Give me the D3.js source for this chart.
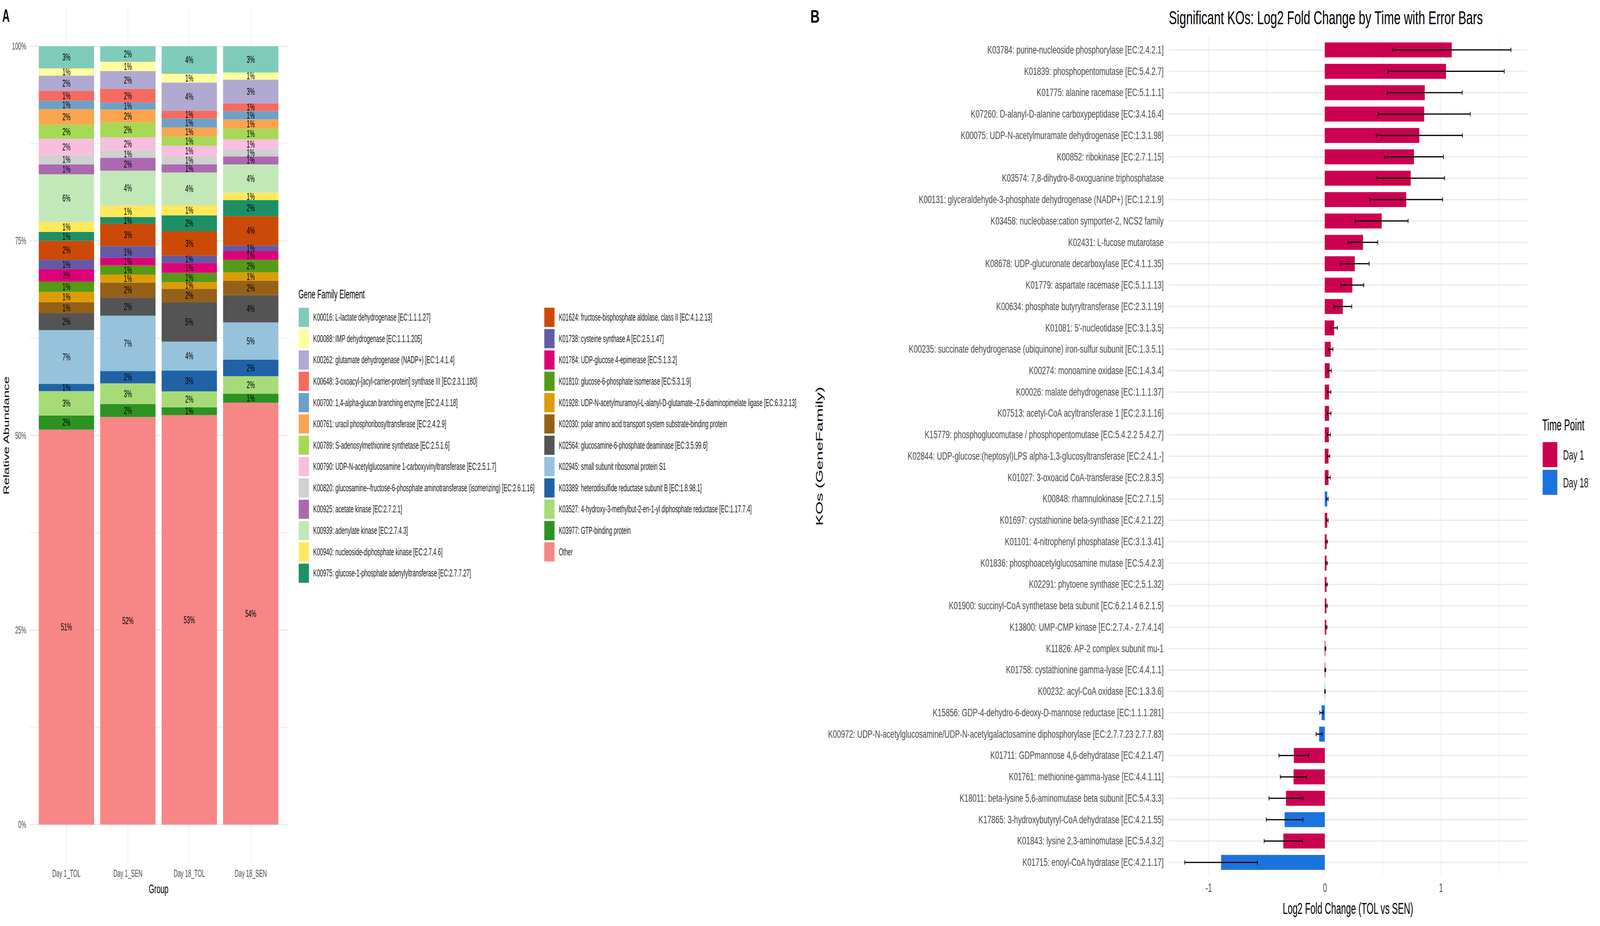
<!DOCTYPE html>
<html><head><meta charset="utf-8">
<script src="https://cdn.jsdelivr.net/npm/d3@7"></script>
<style>
html,body{margin:0;padding:0;background:#fff;overflow:hidden;width:100%;height:100%}
svg{display:block;width:100vw;height:100vh}
text{font-family:"Liberation Sans",Arial,Helvetica,sans-serif}
</style>
</head><body>
<svg id="c" viewBox="0 0 7199 2371" preserveAspectRatio="none"></svg>
<script>
// ---------------- Panel A data ----------------
const groups = ["Day 1_TOL", "Day 1_SEN", "Day 18_TOL", "Day 18_SEN"];
const geneFamilies = [
"K00016: L-lactate dehydrogenase [EC:1.1.1.27]",
"K00088: IMP dehydrogenase [EC:1.1.1.205]",
"K00262: glutamate dehydrogenase (NADP+) [EC:1.4.1.4]",
"K00648: 3-oxoacyl-[acyl-carrier-protein] synthase III [EC:2.3.1.180]",
"K00700: 1,4-alpha-glucan branching enzyme [EC:2.4.1.18]",
"K00761: uracil phosphoribosyltransferase [EC:2.4.2.9]",
"K00789: S-adenosylmethionine synthetase [EC:2.5.1.6]",
"K00790: UDP-N-acetylglucosamine 1-carboxyvinyltransferase [EC:2.5.1.7]",
"K00820: glucosamine--fructose-6-phosphate aminotransferase (isomerizing) [EC:2.6.1.16]",
"K00925: acetate kinase [EC:2.7.2.1]",
"K00939: adenylate kinase [EC:2.7.4.3]",
"K00940: nucleoside-diphosphate kinase [EC:2.7.4.6]",
"K00975: glucose-1-phosphate adenylyltransferase [EC:2.7.7.27]",
"K01624: fructose-bisphosphate aldolase, class II [EC:4.1.2.13]",
"K01738: cysteine synthase A [EC:2.5.1.47]",
"K01784: UDP-glucose 4-epimerase [EC:5.1.3.2]",
"K01810: glucose-6-phosphate isomerase [EC:5.3.1.9]",
"K01928: UDP-N-acetylmuramoyl-L-alanyl-D-glutamate--2,6-diaminopimelate ligase [EC:6.3.2.13]",
"K02030: polar amino acid transport system substrate-binding protein",
"K02564: glucosamine-6-phosphate deaminase [EC:3.5.99.6]",
"K02945: small subunit ribosomal protein S1",
"K03389: heterodisulfide reductase subunit B [EC:1.8.98.1]",
"K03527: 4-hydroxy-3-methylbut-2-en-1-yl diphosphate reductase [EC:1.17.7.4]",
"K03977: GTP-binding protein",
"Other"];
const familyColors = ["#7FCBBA","#FFFD9F","#B0A9D1","#F76A5F","#6BA1C9","#FBA450","#A6D955","#F8BEDF","#D0D0D0","#AD69B0","#C2E8B8","#FFE95B","#1D9066","#CC4A07","#625BA5","#DD0078","#569A17","#DE9C05","#956118","#545454","#96C3DB","#1F63A6","#A6DB78","#2C9322","#F78686"];
const day1TOL  = [2.83,0.93,1.98,1.27,1.05,1.98,1.85,2.06,1.23,1.27,6.14,1.27,1.13,2.44,1.19,1.61,1.33,1.33,1.41,2.17,6.92,0.92,3.13,1.81,50.77];
const day1SEN  = [1.98,1.20,2.31,1.72,0.91,1.67,1.91,1.65,0.98,1.65,4.49,1.46,0.86,2.90,1.46,1.00,1.19,1.02,1.94,2.31,7.12,1.58,2.65,1.67,52.38];
const day18TOL = [3.52,1.13,3.61,1.00,1.13,1.20,1.16,1.35,1.04,1.05,4.23,1.27,2.04,3.13,0.94,1.27,1.19,0.86,1.73,5.05,3.71,2.67,2.05,1.00,52.56];
const day18SEN = [3.36,0.93,3.03,1.00,1.06,1.18,1.38,1.25,0.95,1.03,3.65,0.93,2.06,3.77,0.73,1.11,1.62,1.07,1.84,3.52,4.78,2.13,2.25,1.15,54.20];
const abundanceTicks = [0, 25, 50, 75, 100];

// ---------------- Panel B data ----------------
const koLabels = [
"K03784: purine-nucleoside phosphorylase [EC:2.4.2.1]",
"K01839: phosphopentomutase [EC:5.4.2.7]",
"K01775: alanine racemase [EC:5.1.1.1]",
"K07260: D-alanyl-D-alanine carboxypeptidase [EC:3.4.16.4]",
"K00075: UDP-N-acetylmuramate dehydrogenase [EC:1.3.1.98]",
"K00852: ribokinase [EC:2.7.1.15]",
"K03574: 7,8-dihydro-8-oxoguanine triphosphatase",
"K00131: glyceraldehyde-3-phosphate dehydrogenase (NADP+) [EC:1.2.1.9]",
"K03458: nucleobase:cation symporter-2, NCS2 family",
"K02431: L-fucose mutarotase",
"K08678: UDP-glucuronate decarboxylase [EC:4.1.1.35]",
"K01779: aspartate racemase [EC:5.1.1.13]",
"K00634: phosphate butyryltransferase [EC:2.3.1.19]",
"K01081: 5'-nucleotidase [EC:3.1.3.5]",
"K00235: succinate dehydrogenase (ubiquinone) iron-sulfur subunit [EC:1.3.5.1]",
"K00274: monoamine oxidase [EC:1.4.3.4]",
"K00026: malate dehydrogenase [EC:1.1.1.37]",
"K07513: acetyl-CoA acyltransferase 1 [EC:2.3.1.16]",
"K15779: phosphoglucomutase / phosphopentomutase [EC:5.4.2.2 5.4.2.7]",
"K02844: UDP-glucose:(heptosyl)LPS alpha-1,3-glucosyltransferase [EC:2.4.1.-]",
"K01027: 3-oxoacid CoA-transferase [EC:2.8.3.5]",
"K00848: rhamnulokinase [EC:2.7.1.5]",
"K01697: cystathionine beta-synthase [EC:4.2.1.22]",
"K01101: 4-nitrophenyl phosphatase [EC:3.1.3.41]",
"K01836: phosphoacetylglucosamine mutase [EC:5.4.2.3]",
"K02291: phytoene synthase [EC:2.5.1.32]",
"K01900: succinyl-CoA synthetase beta subunit [EC:6.2.1.4 6.2.1.5]",
"K13800: UMP-CMP kinase [EC:2.7.4.- 2.7.4.14]",
"K11826: AP-2 complex subunit mu-1",
"K01758: cystathionine gamma-lyase [EC:4.4.1.1]",
"K00232: acyl-CoA oxidase [EC:1.3.3.6]",
"K15856: GDP-4-dehydro-6-deoxy-D-mannose reductase [EC:1.1.1.281]",
"K00972: UDP-N-acetylglucosamine/UDP-N-acetylgalactosamine diphosphorylase [EC:2.7.7.23 2.7.7.83]",
"K01711: GDPmannose 4,6-dehydratase [EC:4.2.1.47]",
"K01761: methionine-gamma-lyase [EC:4.4.1.11]",
"K18011: beta-lysine 5,6-aminomutase beta subunit [EC:5.4.3.3]",
"K17865: 3-hydroxybutyryl-CoA dehydratase [EC:4.2.1.55]",
"K01843: lysine 2,3-aminomutase [EC:5.4.3.2]",
"K01715: enoyl-CoA hydratase [EC:4.2.1.17]"];
const log2FC = [1.093,1.044,0.861,0.856,0.814,0.768,0.740,0.701,0.490,0.329,0.258,0.237,0.155,0.081,0.051,0.042,0.037,0.037,0.035,0.032,0.032,0.021,0.021,0.016,0.015,0.015,0.014,0.013,0.005,0.004,0.002,-0.028,-0.049,-0.267,-0.269,-0.334,-0.346,-0.357,-0.893];
const stdErr = [0.510,0.501,0.322,0.396,0.371,0.253,0.292,0.314,0.227,0.127,0.124,0.099,0.077,0.028,0.019,0.015,0.015,0.016,0.013,0.011,0.015,0.008,0.008,0.007,0.007,0.007,0.007,0.006,0.004,0.004,0.003,0.015,0.026,0.128,0.114,0.147,0.158,0.165,0.313];
const timePoint = ["Day 1","Day 1","Day 1","Day 1","Day 1","Day 1","Day 1","Day 1","Day 1","Day 1","Day 1","Day 1","Day 1","Day 1","Day 1","Day 1","Day 1","Day 1","Day 1","Day 1","Day 1","Day 18","Day 1","Day 1","Day 1","Day 1","Day 1","Day 1","Day 1","Day 1","Day 18","Day 18","Day 18","Day 1","Day 1","Day 1","Day 18","Day 1","Day 18"];
const timeLevels = ["Day 1", "Day 18"];
const timeColors = ["#CC0050", "#1B73DD"];
const fcTicks = [-1, 0, 1];
const fcMinor = [-0.5, 0.5, 1.5];

// ---------------- Drawing ----------------
const svg = d3.select("#c");
const GRID = "#EBEBEB";

// ===== Panel A =====
const A = {l:133, r:1294, t:19, b:2211};
const xA = d3.scaleBand().domain(groups).range([A.l, A.r]).paddingInner(0.1).paddingOuter(0.15);
const yA = d3.scaleLinear().domain([-5, 105]).range([A.b, A.t]);
const colorA = d3.scaleOrdinal().domain(geneFamilies).range(familyColors);

const gA = svg.append("g");
const minorA = abundanceTicks.slice(0, -1).map((d, i) => (d + abundanceTicks[i + 1]) / 2);
gA.selectAll(".minA").data(minorA).join("line")
  .attr("x1", A.l).attr("x2", A.r).attr("y1", d => yA(d)).attr("y2", d => yA(d))
  .attr("stroke", GRID).attr("stroke-width", 2);
gA.selectAll(".majA").data(abundanceTicks).join("line")
  .attr("x1", A.l).attr("x2", A.r).attr("y1", d => yA(d)).attr("y2", d => yA(d))
  .attr("stroke", GRID).attr("stroke-width", 3.5);
gA.selectAll(".vA").data(groups).join("line")
  .attr("x1", d => xA(d) + xA.bandwidth() / 2).attr("x2", d => xA(d) + xA.bandwidth() / 2)
  .attr("y1", A.t).attr("y2", A.b).attr("stroke", GRID).attr("stroke-width", 3);

const groupValues = [day1TOL, day1SEN, day18TOL, day18SEN];
const rowsA = groups.map((g, i) => {
  const tot = d3.sum(groupValues[i]);
  const o = {group: g};
  geneFamilies.forEach((f, j) => { o[f] = groupValues[i][j] / tot * 100; });
  return o;
});
const stackKeys = geneFamilies.slice().reverse();
const seriesA = d3.stack().keys(stackKeys)(rowsA);

const segG = gA.append("g");
seriesA.forEach(s => {
  segG.selectAll(null).data(s).join("rect")
    .attr("x", d => xA(d.data.group))
    .attr("width", xA.bandwidth())
    .attr("y", d => yA(d[1]))
    .attr("height", d => yA(d[0]) - yA(d[1]))
    .attr("fill", colorA(s.key));
});
seriesA.forEach(s => {
  segG.selectAll(null).data(s).join("text")
    .attr("x", d => xA(d.data.group) + xA.bandwidth() / 2)
    .attr("y", d => (yA(d[0]) + yA(d[1])) / 2)
    .attr("text-anchor", "middle").attr("dominant-baseline", "central")
    .attr("font-size", 25).attr("fill", "#000")
    .text(d => Math.round(d[1] - d[0]) + "%");
});

const yAxA = gA.append("g").attr("transform", `translate(${A.l},0)`)
  .call(d3.axisLeft(yA).tickValues(abundanceTicks).tickFormat(d => d + "%").tickSize(0).tickPadding(15));
yAxA.select(".domain").remove();
yAxA.selectAll("text").attr("font-size", 25).attr("fill", "#4D4D4D").style("font-family", "Liberation Sans, Arial, sans-serif");

const xAxA = gA.append("g").attr("transform", `translate(0,${A.b})`)
  .call(d3.axisBottom(xA).tickSize(0).tickPadding(16));
xAxA.select(".domain").remove();
xAxA.selectAll("text").attr("font-size", 25).attr("fill", "#4D4D4D").style("font-family", "Liberation Sans, Arial, sans-serif");

gA.append("text").attr("x", (A.l + A.r) / 2).attr("y", 2287).attr("text-anchor", "middle")
  .attr("font-size", 32).attr("fill", "#000").text("Group");
gA.append("text").attr("transform", `translate(28,${(A.t + A.b) / 2}) rotate(-90)`)
  .attr("text-anchor", "middle").attr("dominant-baseline", "central")
  .attr("font-size", 34).attr("fill", "#000").text("Relative Abundance");
svg.append("text").attr("x", 10).attr("y", 56).attr("font-size", 46).attr("font-weight", "bold").text("A");

// Legend A
const legA = svg.append("g");
legA.append("text").attr("x", 1343).attr("y", 764).attr("font-size", 31).attr("fill", "#000").text("Gene Family Element");
const perCol = 13;
const keyStep = 54.6;
const legItems = geneFamilies.map((f, i) => ({f, col: i < perCol ? 0 : 1, row: i < perCol ? i : i - perCol}));
const colX = [1344, 2449];
legA.selectAll(".lk").data(legItems).join("rect")
  .attr("x", d => colX[d.col]).attr("y", d => 788 + d.row * keyStep)
  .attr("width", 46).attr("height", 49).attr("fill", d => colorA(d.f));
legA.selectAll(".lt").data(legItems).join("text")
  .attr("x", d => colX[d.col] + 65).attr("y", d => 788 + d.row * keyStep + 24.5)
  .attr("dominant-baseline", "central").attr("font-size", 25).attr("fill", "#1A1A1A")
  .text(d => d.f);

// ===== Panel B =====
const B = {l:5259, r:6871, t:95, b:2241};
const xB = d3.scaleLinear().domain([-1.343, 1.742]).range([B.l, B.r]);
const yB = d3.scaleBand().domain(koLabels).range([B.t, B.b]).paddingInner(0.3).paddingOuter(0.25);
const colorB = d3.scaleOrdinal().domain(timeLevels).range(timeColors);
const gB = svg.append("g");

gB.selectAll(".minB").data(fcMinor).join("line")
  .attr("x1", d => xB(d)).attr("x2", d => xB(d)).attr("y1", B.t).attr("y2", B.b)
  .attr("stroke", GRID).attr("stroke-width", 2);
gB.selectAll(".majBv").data(fcTicks).join("line")
  .attr("x1", d => xB(d)).attr("x2", d => xB(d)).attr("y1", B.t).attr("y2", B.b)
  .attr("stroke", GRID).attr("stroke-width", 3);
gB.selectAll(".majBh").data(koLabels).join("line")
  .attr("x1", B.l).attr("x2", B.r)
  .attr("y1", d => yB(d) + yB.bandwidth() / 2).attr("y2", d => yB(d) + yB.bandwidth() / 2)
  .attr("stroke", GRID).attr("stroke-width", 3.5);

const rowsB = koLabels.map((k, i) => ({k, v: log2FC[i], se: stdErr[i], t: timePoint[i]}));
gB.selectAll(".barB").data(rowsB).join("rect")
  .attr("x", d => xB(Math.min(0, d.v)))
  .attr("width", d => Math.abs(xB(d.v) - xB(0)))
  .attr("y", d => yB(d.k)).attr("height", yB.bandwidth())
  .attr("fill", d => colorB(d.t));
const capH = 5.5;
const eb = gB.selectAll(".eb").data(rowsB).join("g")
  .attr("transform", d => `translate(0,${yB(d.k) + yB.bandwidth() / 2})`);
eb.append("line").attr("x1", d => xB(d.v - d.se)).attr("x2", d => xB(d.v + d.se))
  .attr("y1", 0).attr("y2", 0).attr("stroke", "#000").attr("stroke-width", 3);
eb.append("line").attr("x1", d => xB(d.v - d.se)).attr("x2", d => xB(d.v - d.se))
  .attr("y1", -capH).attr("y2", capH).attr("stroke", "#000").attr("stroke-width", 3);
eb.append("line").attr("x1", d => xB(d.v + d.se)).attr("x2", d => xB(d.v + d.se))
  .attr("y1", -capH).attr("y2", capH).attr("stroke", "#000").attr("stroke-width", 3);

const yAxB = gB.append("g").attr("transform", `translate(${B.l},0)`)
  .call(d3.axisLeft(yB).tickSize(0).tickPadding(20));
yAxB.select(".domain").remove();
yAxB.selectAll("text").attr("font-size", 28).attr("fill", "#4D4D4D")
  .attr("transform", "scale(1.17,1)").style("font-family", "Liberation Sans, Arial, sans-serif");

const xAxB = gB.append("g").attr("transform", `translate(0,${B.b})`)
  .call(d3.axisBottom(xB).tickValues(fcTicks).tickFormat(d => String(d)).tickSize(0).tickPadding(20));
xAxB.select(".domain").remove();
xAxB.selectAll("text").attr("font-size", 32).attr("fill", "#4D4D4D").style("font-family", "Liberation Sans, Arial, sans-serif");

gB.append("text").attr("x", (B.l + B.r) / 2).attr("y", 2340).attr("text-anchor", "middle")
  .attr("font-size", 40).attr("fill", "#000").text("Log2 Fold Change (TOL vs SEN)");
gB.append("text").attr("transform", `translate(3686,${(B.t + B.b) / 2}) rotate(-90)`)
  .attr("text-anchor", "middle").attr("dominant-baseline", "central")
  .attr("font-size", 43).attr("fill", "#000").text("KOs (GeneFamily)");
gB.append("text").attr("transform", `translate(${B.l},62) scale(1.12,1)`)
  .attr("font-size", 48).attr("fill", "#000")
  .text("Significant KOs: Log2 Fold Change by Time with Error Bars");
svg.append("text").attr("transform", "translate(3646,58) scale(1.25,1)")
  .attr("font-size", 46).attr("font-weight", "bold").text("B");

// Legend B
const legB = svg.append("g");
legB.append("text").attr("x", 6939).attr("y", 1102).attr("font-size", 40).attr("fill", "#000").text("Time Point");
legB.selectAll(".bk").data(timeLevels).join("rect")
  .attr("x", 6941).attr("y", (d, i) => 1132 + i * 71).attr("width", 66).attr("height", 64)
  .attr("fill", d => colorB(d));
legB.selectAll(".bt").data(timeLevels).join("text")
  .attr("x", 7033).attr("y", (d, i) => 1132 + i * 71 + 32).attr("dominant-baseline", "central")
  .attr("font-size", 36).attr("fill", "#1A1A1A").text(d => d);
</script>
</body></html>
